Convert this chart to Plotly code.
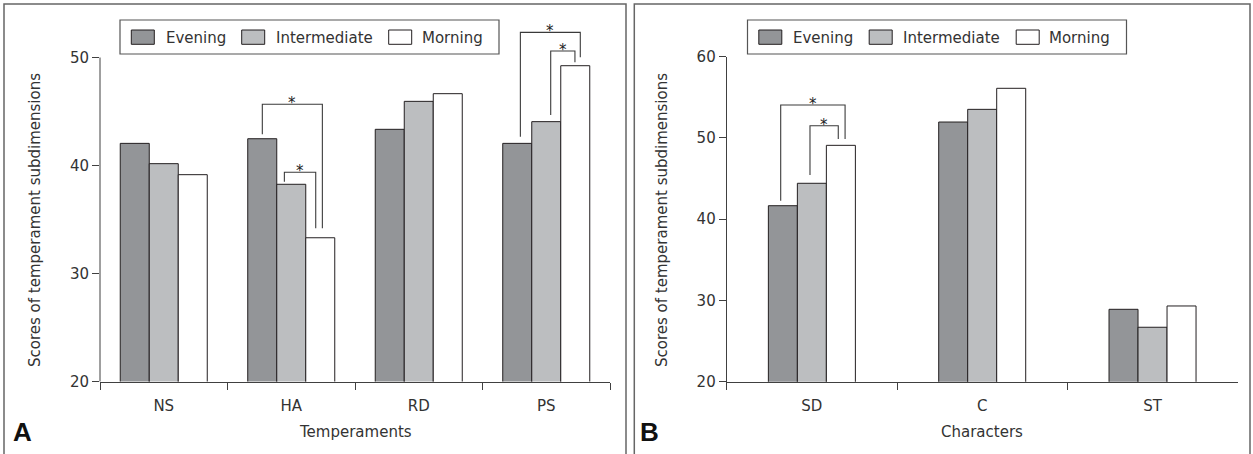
import plotly.graph_objects as go

# ---------------- data ----------------
series_names = ["Evening", "Intermediate", "Morning"]

temperaments = ["NS", "HA", "RD", "PS"]
temp_evening = [42.05, 42.48, 43.35, 42.05]
temp_intermediate = [40.17, 38.26, 45.94, 44.06]
temp_morning = [39.15, 33.31, 46.65, 49.24]

characters = ["SD", "C", "ST"]
char_evening = [41.66, 51.96, 28.91]
char_intermediate = [44.42, 53.52, 26.70]
char_morning = [49.09, 56.11, 29.32]

temp_ticks = [20, 30, 40, 50]
char_ticks = [20, 30, 40, 50, 60]

# ---------------- styling ----------------
W, H = 1253, 454
FONT = "DejaVu Sans"
TXT = "#333333"
AX = "#404040"
FILLS = ["#939598", "#bcbec0", "#ffffff"]
EDGE = "#231f20"

def px(x):
    return x / W

def py(y):
    return 1 - y / H

# subplot pixel geometry
A_x0, A_x1, A_ybot, A_ytop = 100, 610, 381.5, 14.3
B_x0, B_x1, B_ybot, B_ytop = 726.7, 1237.7, 381.7, 56.7
A_range = [20, 54]
B_range = [20, 60]

fig = go.Figure()

def add_group(xa, ya, cats, vals_list, width):
    offs = [-1.5 * width, -0.5 * width, 0.5 * width]
    for name, vals, fill, off in zip(series_names, vals_list, FILLS, offs):
        fig.add_trace(go.Bar(
            x=cats, y=vals, name=name, xaxis=xa, yaxis=ya,
            marker=dict(color=fill, line=dict(color=EDGE, width=1)),
            width=width, offset=off, showlegend=False,
        ))

add_group("x", "y", temperaments, [temp_evening, temp_intermediate, temp_morning], 0.2275)
add_group("x2", "y2", characters, [char_evening, char_intermediate, char_morning], 0.1703)

xcommon = dict(type="category", showline=True, linecolor=AX, linewidth=1,
               ticks="outside", tickson="boundaries", ticklen=7, tickcolor=AX,
               ticklabelstandoff=10,
               showgrid=False, zeroline=False, automargin=False,
               tickfont=dict(family=FONT, size=15, color=TXT), fixedrange=True)
ycommon = dict(ticks="outside", ticklen=7, tickcolor=AX, showgrid=False,
               zeroline=False, automargin=False,
               tickfont=dict(family=FONT, size=15, color=TXT), fixedrange=True)

fig.update_layout(
    width=W, height=H,
    margin=dict(l=0, r=0, t=0, b=0),
    paper_bgcolor="white", plot_bgcolor="white",
    barmode="group",
    xaxis=dict(domain=[px(A_x0), px(A_x1)], anchor="y",
               range=[-0.5, len(temperaments) - 0.5], **xcommon),
    yaxis=dict(domain=[py(A_ybot), py(A_ytop)], anchor="x", range=A_range,
               tickvals=temp_ticks, showline=False, **ycommon),
    xaxis2=dict(domain=[px(B_x0), px(B_x1)], anchor="y2",
                range=[-0.5, len(characters) - 0.5], **xcommon),
    yaxis2=dict(domain=[py(B_ybot), py(B_ytop)], anchor="x2", range=B_range,
                tickvals=char_ticks, showline=True, linecolor=AX, linewidth=1,
                **ycommon),
)

shapes = []
annotations = []

# y axis line for panel A (stops at 50)
def a_y_to_paper(v):
    d0, d1 = py(A_ybot), py(A_ytop)
    return d0 + (v - A_range[0]) / (A_range[1] - A_range[0]) * (d1 - d0)

shapes.append(dict(type="line", xref="paper", yref="paper",
                   x0=px(A_x0), x1=px(A_x0), y0=a_y_to_paper(20), y1=a_y_to_paper(50),
                   line=dict(color=AX, width=1)))

# significance brackets
def bracket(xr, yr, xl, yl_bot, xrr, yr_bot, ytop):
    shapes.append(dict(type="path", xref=xr, yref=yr,
                       path=f"M {xl},{yl_bot} L {xl},{ytop} L {xrr},{ytop} L {xrr},{yr_bot}",
                       line=dict(color="#3a3a3a", width=1.1)))
    annotations.append(dict(x=(xl + xrr) / 2, y=ytop, xref=xr, yref=yr, text="*",
                            showarrow=False, yanchor="middle", xanchor="center", yshift=1,
                            font=dict(family=FONT, size=15, color="#222222")))

bracket("x", "y", 0.773, 42.89, 1.244, 34.19, 45.67)
bracket("x", "y", 0.946, 38.50, 1.192, 34.19, 39.37)
bracket("x", "y", 2.797, 42.67, 3.267, 50.02, 52.33)
bracket("x", "y", 3.035, 44.68, 3.225, 49.56, 50.60)
bracket("x2", "y2", -0.183, 42.28, 0.195, 49.87, 54.06)
bracket("x2", "y2", -0.011, 45.44, 0.155, 49.87, 51.51)

# panel frames
for xl, xr in [(4, 626), (634.3, 1250)]:
    shapes.append(dict(type="path", xref="paper", yref="paper",
                       path=f"M {px(xl)},{py(H)} L {px(xl)},{py(4)} L {px(xr)},{py(4)} L {px(xr)},{py(H)}",
                       line=dict(color="#666666", width=1.5)))

# legends (manual to match swatch size)
def legend(dx):
    shapes.append(dict(type="rect", xref="paper", yref="paper",
                       x0=px(120 + dx), x1=px(499 + dx), y0=py(54), y1=py(20),
                       line=dict(color="#555555", width=1.2), fillcolor="white"))
    sw = [131.3, 241.7, 388.7]
    tx = [166, 275.7, 421.7]
    for name, fill, s, t in zip(series_names, FILLS, sw, tx):
        shapes.append(dict(type="rect", xref="paper", yref="paper",
                           x0=px(s + dx), x1=px(s + 23 + dx), y0=py(44.3), y1=py(30),
                           line=dict(color=EDGE, width=1), fillcolor=fill))
        annotations.append(dict(x=px(t + dx - 2), y=py(37.5), xref="paper", yref="paper",
                                text=name, showarrow=False, xanchor="left", yanchor="middle",
                                font=dict(family=FONT, size=15, color=TXT)))

legend(0)
legend(627.5)

# axis titles
annotations.append(dict(x=px((A_x0 + A_x1) / 2), y=py(432), xref="paper", yref="paper",
                        text="Temperaments", showarrow=False, xanchor="center", yanchor="middle",
                        font=dict(family=FONT, size=15, color=TXT)))
annotations.append(dict(x=px((B_x0 + B_x1) / 2), y=py(432), xref="paper", yref="paper",
                        text="Characters", showarrow=False, xanchor="center", yanchor="middle",
                        font=dict(family=FONT, size=15, color=TXT)))
for xc in [35, 662]:
    annotations.append(dict(x=px(xc), y=py(220), xref="paper", yref="paper",
                            text="Scores of temperament subdimensions", showarrow=False,
                            textangle=-90, xanchor="center", yanchor="middle",
                            font=dict(family=FONT, size=15, color=TXT)))

# panel labels
annotations.append(dict(x=px(22), y=py(432), xref="paper", yref="paper", text="<b>A</b>",
                        showarrow=False, xanchor="center", yanchor="middle",
                        font=dict(family="Liberation Sans", size=26, color="#111111")))
annotations.append(dict(x=px(650), y=py(432), xref="paper", yref="paper", text="<b>B</b>",
                        showarrow=False, xanchor="center", yanchor="middle",
                        font=dict(family="Liberation Sans", size=26, color="#111111")))

fig.update_layout(shapes=shapes, annotations=annotations)
fig.write_html("out.html", config={"displayModeBar": False},
               post_script="document.body.style.margin='0px';document.body.style.overflow='hidden';")
